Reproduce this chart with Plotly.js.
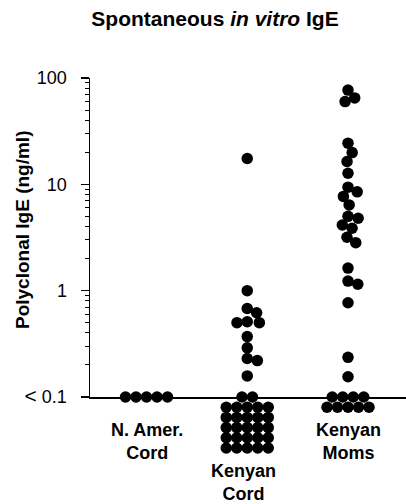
<!DOCTYPE html>
<html><head><meta charset="utf-8">
<script src="https://cdn.plot.ly/plotly-3.0.1.min.js"></script>
<style>html,body{margin:0;padding:0;background:#fff}</style>
</head><body><div id="chart" style="width:406px;height:504px"></div>
<script>
// ---- data ----
const groups = ['N. Amer. Cord', 'Kenyan Cord', 'Kenyan Moms'];
const groupLabels = ['N. Amer.<br>Cord', 'Kenyan<br>Cord', 'Kenyan<br>Moms'];
const detectionLimit = 0.1;
// detected values above the limit (ng/ml)
const naCordValues = [];
const kenyanCordValues = [17.5, 1.0, 0.68, 0.62, 0.51, 0.50, 0.50, 0.37, 0.29, 0.23, 0.22, 0.158];
const kenyanMomsValues = [77, 65, 60, 24.4, 19.9, 16.4, 12.7, 9.4, 8.5, 7.7, 6.4, 5.0, 4.8, 4.15, 3.86, 3.18, 2.83, 1.63, 1.23, 1.15, 0.77, 0.236, 0.155];
// samples below detection (< 0.1)
const belowLimitCounts = [5, 27, 9];
const tickVals = [0.1, 1, 10, 100];
const tickLabels = ['<span style="font-size:21px">&lt;</span> 0.1', '1', '10', '100'];
const titleText = '<b>Spontaneous <i>in vitro</i> IgE</b>';
const yTitleText = '<b>Polyclonal IgE (ng/ml)</b>';

// ---- geometry ----
const W = 406, H = 504;
const M = {l: 90, r: 0, t: 78, b: 44};
const plotW = W - M.l - M.r, plotH = H - M.t - M.b;
const belowPx = 63;                       // space under the baseline
const decadePx = (plotH - belowPx) / 3;   // log range -1..2
const centerPx = [56.5, 157, 258];        // group centres from plot left
const unit = (centerPx[2] - centerPx[0]) / 2;
const xMin = -centerPx[0] / unit, xMax = 2 + (plotW - centerPx[2]) / unit;
const D = 10.3;            // collision distance of dots (px)
const colGap = 10.5, rowGap = 10.2, perRow = 5;
const font = 'Liberation Sans, Arial, sans-serif';

function swarmOffsets(vals) {
  const pys = vals.map(v => (2 - Math.log10(v)) * decadePx);
  const idx = pys.map((_, i) => i).sort((a, b) => pys[a] - pys[b]);
  const placed = [], out = new Array(vals.length);
  idx.forEach(i => {
    const y = pys[i];
    const cands = [0];
    placed.forEach(p => {
      const dy = Math.abs(p.y - y);
      if (dy < D) { const dx = Math.sqrt(D * D - dy * dy); cands.push(p.x + dx, p.x - dx); }
    });
    const ok = cands.filter(c => placed.every(p => Math.hypot(p.x - c, p.y - y) >= D - 1e-6));
    ok.sort((a, b) => Math.abs(a) - Math.abs(b) || b - a);
    placed.push({x: ok[0], y}); out[i] = ok[0];
  });
  return out;
}

const detected = [naCordValues, kenyanCordValues, kenyanMomsValues];
const dx = [], dy = [], sx = [], sy = [];
detected.forEach((vals, g) => {
  const offs = swarmOffsets(vals);
  vals.forEach((v, i) => { dx.push(g + offs[i] / unit); dy.push(v); });
  const n = belowLimitCounts[g];
  const rows = Math.ceil(n / perRow);
  for (let r = 0; r < rows; r++) {
    const cnt = r === 0 ? n - perRow * (rows - 1) : perRow;
    for (let j = 0; j < cnt; j++) {
      sx.push(g + (j - (cnt - 1) / 2) * colGap / unit);
      sy.push(-r * rowGap);
    }
  }
});

const marker = {color: '#000', size: 11.5, line: {width: 0}};
const traces = [
  {type: 'scatter', mode: 'markers', x: dx, y: dy, xaxis: 'x', yaxis: 'y', marker, cliponaxis: false, hoverinfo: 'skip'},
  {type: 'scatter', mode: 'markers', x: sx, y: sy, xaxis: 'x', yaxis: 'y2', marker, cliponaxis: false, hoverinfo: 'skip'}
];

const minorVals = [];
[0.1, 1, 10].forEach(d => { for (let k = 2; k <= 9; k++) minorVals.push(+(k * d).toPrecision(3)); });

const yDom0 = belowPx / plotH;
const annotations = groupLabels.map((t, g) => ({
  text: '<b>' + t + '</b>', xref: 'x', x: g, xshift: g === 1 ? -4 : 0, yref: 'paper',
  y: g === 1 ? (plotH - (459 - M.t)) / plotH : (plotH - (418 - M.t)) / plotH,
  xanchor: 'center', yanchor: 'top', showarrow: false,
  font: {family: font, size: 18, color: '#000'}
}));
annotations.push({
  text: yTitleText, textangle: -90, xref: 'paper', x: (22 - M.l) / plotW, xanchor: 'center',
  yref: 'paper', y: (plotH - (230 - M.t)) / plotH, yanchor: 'middle', showarrow: false,
  font: {family: font, size: 19, color: '#000'}
});

const layout = {
  width: W, height: H, margin: M, paper_bgcolor: '#fff', plot_bgcolor: '#fff', showlegend: false,
  title: {text: titleText, font: {family: font, size: 21, color: '#000'},
          xref: 'container', x: 215 / W, xanchor: 'center', yref: 'container', y: 1 - 19 / H, yanchor: 'middle'},
  xaxis: {range: [xMin, xMax], showline: true, linecolor: '#000', linewidth: 1.5, showgrid: false, zeroline: false,
          showticklabels: false, ticks: '', anchor: 'y', fixedrange: true},
  yaxis: {type: 'log', range: [-1, 2], domain: [yDom0, 1], anchor: 'x', showline: true, linecolor: '#000', linewidth: 1.5,
          showgrid: false, zeroline: false, ticks: 'outside', ticklen: 8, tickwidth: 1.5, tickcolor: '#000',
          tickmode: 'array', tickvals: tickVals, ticktext: tickLabels, ticklabelstandoff: 10,
          tickfont: {family: font, size: 18, color: '#000'},
          minor: {tickmode: 'array', tickvals: minorVals, ticks: 'outside', ticklen: 4, tickwidth: 1, tickcolor: '#000', showgrid: false}},
  yaxis2: {domain: [0, yDom0], range: [-belowPx, 0], anchor: 'x', visible: false, fixedrange: true},
  annotations
};

Plotly.newPlot('chart', traces, layout, {displayModeBar: false, staticPlot: true});
</script></body></html>
